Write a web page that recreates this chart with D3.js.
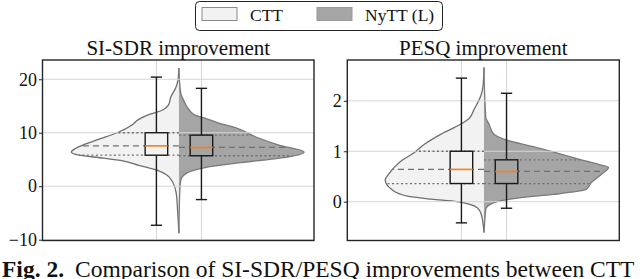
<!DOCTYPE html>
<html lang="en">
<head>
<meta charset="utf-8">
<title>SI-SDR / PESQ improvement</title>
<style>
  body { margin: 0; background: #fff; }
  text { font-family: "Liberation Serif", "Times New Roman", serif; fill: #111; }
</style>
</head>
<body>
<svg id="fig" width="640" height="279"></svg>
<script src="https://cdn.jsdelivr.net/npm/d3@7"></script>
<script>
const models = ["CTT", "NyTT (L)"];
const titles = ["SI-SDR improvement", "PESQ improvement"];
const sdrTicks = [-10, 0, 10, 20];
const pesqTicks = [0, 1, 2];

// box stats: [low whisker, q1, median, q3, high whisker]
const sdrBoxCTT = [-7.3, 5.8, 7.55, 10.0, 20.4];
const sdrBoxNyTT = [-2.5, 5.7, 7.25, 9.55, 18.3];
const pesqBoxCTT = [-0.42, 0.36, 0.64, 1.0, 2.45];
const pesqBoxNyTT = [-0.13, 0.36, 0.6, 0.83, 2.15];

// violin half widths (category units), [value, width], top to bottom
const sdrViolinCTT = [[22.1, 0], [19.9, 0.02], [18.4, 0.07], [16.7, 0.18], [15.2, 0.23], [14.25, 0.36],
  [13.3, 0.7], [12.4, 0.91], [11.4, 1.05], [10, 1.37], [8.6, 1.84], [7.1, 2.29], [6.4, 2.39],
  [5.8, 2.22], [5.25, 1.67], [4.7, 1.22], [3.9, 0.89], [3.0, 0.49], [2.1, 0.27], [0.6, 0.13],
  [-1.3, 0.06], [-4.5, 0.03], [-8.8, 0]];
const sdrViolinNyTT = [[22.1, 0], [18.9, 0.02], [17.1, 0.05], [15.8, 0.12], [14.25, 0.23], [13.3, 0.36],
  [12.6, 0.62], [11.8, 0.89], [10.9, 1.27], [9.2, 1.71], [7.7, 2.22], [6.4, 2.78], [5.5, 2.44],
  [4.9, 1.89], [4.3, 1.27], [3.4, 0.53], [2.4, 0.16], [1.1, 0.04], [-0.75, 0.02], [-8.8, 0]];
const pesqViolinCTT = [[2.66, 0], [2.3, 0.02], [2.1, 0.07], [1.83, 0.22], [1.65, 0.33], [1.54, 0.51],
  [1.34, 0.95], [1.14, 1.32], [0.97, 1.55], [0.81, 1.83], [0.68, 1.99], [0.56, 2.1], [0.43, 2.19],
  [0.245, 2.05], [0.11, 1.7], [0.05, 1.17], [0, 0.6], [-0.12, 0.15], [-0.25, 0.06], [-0.61, 0]];
const pesqViolinNyTT = [[2.66, 0], [2.23, 0.01], [1.83, 0.03], [1.67, 0.04], [1.54, 0.11], [1.34, 0.22],
  [1.22, 0.51], [1.1, 1.04], [0.97, 1.61], [0.84, 2.12], [0.74, 2.54], [0.68, 2.76], [0.54, 2.6],
  [0.38, 2.38], [0.245, 2.27], [0.145, 1.55], [0.08, 0.82], [-0.02, 0.22], [-0.15, 0.04],
  [-0.35, 0.02], [-0.61, 0]];

const fills = ["#f2f2f2", "#a5a5a5"];
const svg = d3.select("#fig");

const panels = [
  {title: titles[0], ticks: sdrTicks, yDomain: [-10.15, 23.6], left: 42.5, right: 314,
   boxes: [sdrBoxCTT, sdrBoxNyTT], violins: [sdrViolinCTT, sdrViolinNyTT]},
  {title: titles[1], ticks: pesqTicks, yDomain: [-0.77, 2.81], left: 347.3, right: 619.3,
   boxes: [pesqBoxCTT, pesqBoxNyTT], violins: [pesqViolinCTT, pesqViolinNyTT]}
];

const plotTop = 60, plotBottom = 240.5;

panels.forEach(p => {
  const x = d3.scaleLinear().domain([-2.53, 3.5]).range([p.left, p.right]);
  const y = d3.scaleLinear().domain(p.yDomain).range([plotBottom, plotTop]);
  const g = svg.append("g");

  // violins (split, centred between the two boxes)
  const cx = 0.5;
  p.violins.forEach((v, i) => {
    const side = i === 0 ? -1 : 1;
    const line = d3.line()
      .x(d => x(cx + side * d[1]))
      .y(d => y(d[0]))
      .curve(d3.curveMonotoneY);
    g.append("path")
      .attr("d", line(v) + "Z")
      .attr("fill", fills[i])
      .attr("stroke", "none");
    g.append("path")
      .attr("d", line(v))
      .attr("fill", "none")
      .attr("stroke", i === 0 ? "#6e6e6e" : "#7a7a7a")
      .attr("stroke-width", 1.3);
  });

  // grid
  g.append("g").selectAll("line").data(p.ticks).join("line")
    .attr("x1", p.left).attr("x2", p.right)
    .attr("y1", d => y(d)).attr("y2", d => y(d))
    .attr("stroke", "#d6d6d6").attr("stroke-width", 1);
  g.append("g").selectAll("line").data([0, 1]).join("line")
    .attr("x1", d => x(d)).attr("x2", d => x(d))
    .attr("y1", plotTop).attr("y2", plotBottom)
    .attr("stroke", "#d6d6d6").attr("stroke-width", 1);

  // quartile lines inside violins
  p.violins.forEach((v, i) => {
    const side = i === 0 ? -1 : 1;
    const w = d3.scaleLinear().domain(v.map(d => d[0])).range(v.map(d => d[1]));
    const b = p.boxes[i];
    [b[1], b[2], b[3]].forEach((q, k) => {
      g.append("line")
        .attr("x1", x(cx)).attr("x2", x(cx + side * w(q)))
        .attr("y1", y(q)).attr("y2", y(q))
        .attr("stroke", "#707070")
        .attr("stroke-width", 1.3)
        .attr("stroke-dasharray", k === 1 ? "6,4" : "2,2.5");
    });
  });

  // boxes
  p.boxes.forEach((b, i) => {
    const bx = x(i), hw = x(0.25) - x(0), cw = x(0.125) - x(0);
    const bg = g.append("g").attr("stroke", "#1a1a1a").attr("stroke-width", 1.4);
    bg.append("line").attr("x1", bx).attr("x2", bx).attr("y1", y(b[0])).attr("y2", y(b[1]));
    bg.append("line").attr("x1", bx).attr("x2", bx).attr("y1", y(b[3])).attr("y2", y(b[4]));
    bg.append("line").attr("x1", bx - cw).attr("x2", bx + cw).attr("y1", y(b[0])).attr("y2", y(b[0]));
    bg.append("line").attr("x1", bx - cw).attr("x2", bx + cw).attr("y1", y(b[4])).attr("y2", y(b[4]));
    bg.append("rect")
      .attr("x", bx - hw).attr("width", 2 * hw)
      .attr("y", y(b[3])).attr("height", y(b[1]) - y(b[3]))
      .attr("fill", fills[i]);
    g.append("line")
      .attr("x1", bx - hw).attr("x2", bx + hw)
      .attr("y1", y(b[2])).attr("y2", y(b[2]))
      .attr("stroke", "#ff7f0e").attr("stroke-width", 1.6);
  });

  // frame and y axis
  g.append("rect")
    .attr("x", p.left).attr("y", plotTop)
    .attr("width", p.right - p.left).attr("height", plotBottom - plotTop)
    .attr("fill", "none").attr("stroke", "#262626").attr("stroke-width", 1.4);
  const axis = d3.axisLeft(y).tickValues(p.ticks).tickSize(3.5).tickPadding(2)
    .tickFormat(d => d < 0 ? "\u2212" + Math.abs(d) : d);
  const ag = g.append("g").attr("transform", `translate(${p.left},0)`).call(axis);
  ag.select(".domain").remove();
  ag.selectAll("line").attr("stroke", "#262626");
  ag.selectAll("text").attr("font-size", 18).attr("font-family", "Liberation Serif").attr("fill", "#111");

  g.append("text")
    .attr("x", (p.left + p.right) / 2).attr("y", 54.5)
    .attr("text-anchor", "middle").attr("font-size", 21)
    .text(p.title);
});

// legend
const leg = svg.append("g");
leg.append("rect")
  .attr("x", 195.5).attr("y", 1.5).attr("width", 247).attr("height", 29).attr("rx", 4)
  .attr("fill", "#fff").attr("stroke", "#222").attr("stroke-width", 1);
models.forEach((m, i) => {
  const ox = 202 + i * 115;
  leg.append("rect")
    .attr("x", ox).attr("y", 7.5).attr("width", 35).attr("height", 13)
    .attr("fill", fills[i]).attr("stroke", i === 0 ? "#8a8a8a" : "#9a9a9a").attr("stroke-width", 1);
  leg.append("text")
    .attr("x", ox + 48).attr("y", 20.5).attr("font-size", 17.5).text(m);
});

// caption
const cap = svg.append("text").attr("y", 277).attr("font-size", 23.5);
cap.append("tspan").attr("x", 2).attr("font-weight", "bold").text("Fig. 2.");
cap.append("tspan").attr("x", 75).text("Comparison of SI-SDR/PESQ improvements between CTT");
</script>
</body>
</html>
